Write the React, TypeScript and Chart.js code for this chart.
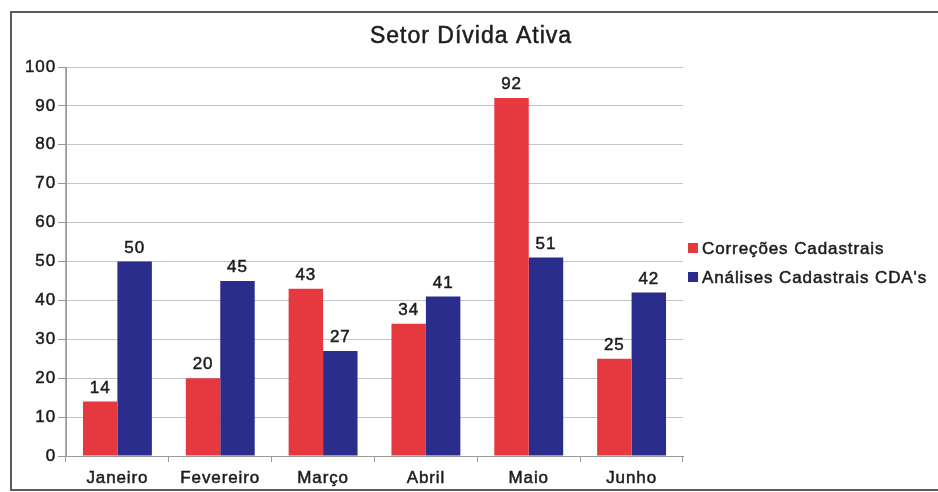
import React, { useEffect, useRef } from "react";
import { Chart, registerables } from "chart.js";

Chart.register(...registerables);

const chartTitle = "Setor Dívida Ativa";
const categories = ["Janeiro", "Fevereiro", "Março", "Abril", "Maio", "Junho"];
const seriesNames = ["Correções Cadastrais", "Análises Cadastrais CDA's"];
const correcoesCadastrais = [14, 20, 43, 34, 92, 25];
const analisesCadastrais = [50, 45, 27, 41, 51, 42];
const seriesColors = ["#e5383f", "#2b2d8c"];
const yMin = 0;
const yMax = 100;
const yStep = 10;

const FONT = '"Liberation Sans", Arial, sans-serif';
const TEXT = "#1c1c1c";
const SPACING = "0.9px";
const STROKE = 0.5;

const spacingPlugin = {
  id: "spacing",
  beforeLayout(chart: any) {
    (chart.ctx as any).letterSpacing = SPACING;
  },
  beforeDraw(chart: any) {
    (chart.ctx as any).letterSpacing = SPACING;
  },
};

function drawText(ctx: CanvasRenderingContext2D, s: string, x: number, y: number) {
  ctx.fillText(s, x, y);
  ctx.strokeText(s, x, y);
}

const overlayPlugin = {
  id: "overlay",
  afterDatasetsDraw(chart: any) {
    const ctx = chart.ctx as CanvasRenderingContext2D;
    const area = chart.chartArea;
    ctx.save();
    (ctx as any).letterSpacing = SPACING;
    ctx.lineWidth = STROKE;
    ctx.strokeStyle = TEXT;
    // data labels
    ctx.fillStyle = TEXT;
    ctx.font = `17px ${FONT}`;
    ctx.textAlign = "center";
    ctx.textBaseline = "bottom";
    chart.data.datasets.forEach((ds: any, i: number) => {
      const meta = chart.getDatasetMeta(i);
      meta.data.forEach((bar: any, j: number) => {
        drawText(ctx, String(ds.data[j]), bar.x, bar.y - 5);
      });
    });
    // title
    (ctx as any).letterSpacing = "1px";
    ctx.font = `23px ${FONT}`;
    ctx.textBaseline = "alphabetic";
    drawText(ctx, chartTitle, chart.width / 2 + 2, 43);
    // legend
    (ctx as any).letterSpacing = SPACING;
    ctx.font = `17px ${FONT}`;
    ctx.textAlign = "left";
    ctx.textBaseline = "middle";
    chart.data.datasets.forEach((ds: any, i: number) => {
      const y = 248 + i * 29;
      const x = area.right + 5;
      ctx.fillStyle = ds.backgroundColor;
      ctx.fillRect(x, y - 5, 10, 10);
      ctx.fillStyle = TEXT;
      drawText(ctx, ds.label, x + 14, y + 1);
    });
    ctx.restore();
  },
};

export default function App() {
  const ref = useRef<HTMLCanvasElement | null>(null);
  useEffect(() => {
    if (!ref.current) return;
    const chart = new Chart(ref.current, {
      type: "bar",
      data: {
        labels: categories,
        datasets: [
          {
            label: seriesNames[0],
            data: correcoesCadastrais,
            backgroundColor: seriesColors[0],
            categoryPercentage: 0.67,
            barPercentage: 1,
          },
          {
            label: seriesNames[1],
            data: analisesCadastrais,
            backgroundColor: seriesColors[1],
            categoryPercentage: 0.67,
            barPercentage: 1,
          },
        ],
      },
      options: {
        animation: false,
        responsive: false,
        devicePixelRatio: 1,
        layout: { padding: { left: 14, top: 67, right: 255, bottom: 0 } },
        plugins: {
          legend: { display: false },
          title: { display: false },
          tooltip: { enabled: false },
        },
        scales: {
          x: {
            afterFit: (s: any) => {
              s.height = 36;
            },
            grid: {
              offset: true,
              drawOnChartArea: true,
              color: (c: any) =>
                c.index === 0 || c.index === categories.length ? "#b0b0b0" : "rgba(0,0,0,0)",
              tickColor: "#9a9a9a",
              tickLength: 6,
            },
            border: { color: "#9a9a9a" },
            ticks: {
              color: TEXT,
              font: { family: FONT, size: 17 },
              padding: 6,
              textStrokeColor: TEXT,
              textStrokeWidth: STROKE,
            },
          },
          y: {
            min: yMin,
            max: yMax,
            afterFit: (s: any) => {
              s.width = 52;
            },
            grid: { color: "#c4c4c4", tickColor: "#9a9a9a", tickLength: 8 },
            border: { color: "#9a9a9a" },
            ticks: {
              stepSize: yStep,
              color: TEXT,
              font: { family: FONT, size: 17 },
              padding: 2,
              textStrokeColor: TEXT,
              textStrokeWidth: STROKE,
            },
          },
        },
      },
      plugins: [spacingPlugin, overlayPlugin],
    });
    return () => chart.destroy();
  }, []);

  return (
    <div style={{ position: "fixed", left: 0, top: 0, width: 938, height: 492, background: "#fff", overflow: "hidden" }}>
      <div
        style={{
          position: "absolute",
          left: 10,
          top: 11,
          width: 960,
          height: 476,
          borderLeft: "2px solid #5a5a5a",
          borderTop: "2px solid #5a5a5a",
          borderBottom: "2px solid #5a5a5a",
        }}
      />
      <canvas ref={ref} width={938} height={492} style={{ position: "absolute", left: 0, top: 0 }} />
    </div>
  );
}
